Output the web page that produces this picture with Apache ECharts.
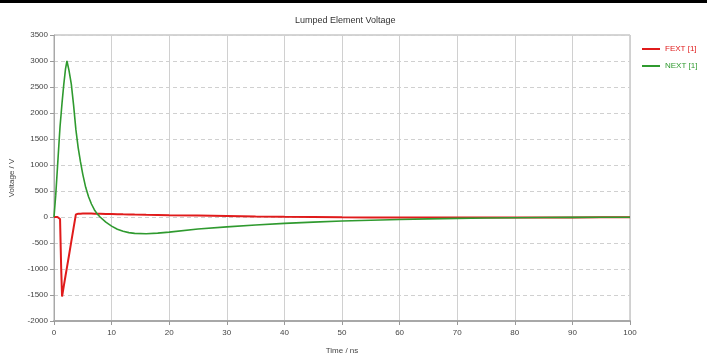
<!DOCTYPE html>
<html>
<head>
<meta charset="utf-8">
<script src="https://cdn.jsdelivr.net/npm/echarts@6/dist/echarts.min.js"></script>
<style>
  html, body { margin: 0; padding: 0; background: #fff; }
  #chart { width: 707px; height: 362px; }
</style>
</head>
<body>
<div id="chart"></div>
<script>
// Sample times (ns) shared by both traces
const timeNs = [0, 0.3, 0.6, 0.9, 1.05, 1.25, 1.4, 1.7, 2.0, 2.25, 2.6, 3.0, 3.4, 3.8, 4.2, 4.6, 5.0, 5.5, 6, 6.5, 7, 7.5, 8, 9, 10, 11, 12, 13, 14, 16, 18, 20, 25, 30, 35, 40, 45, 50, 55, 60, 65, 70, 75, 80, 85, 90, 95, 100];

// Far-end crosstalk voltage (V)
const fextValues = [0, 0, 0, -5, -40, -1000, -1530, -1330, -1130, -970, -740, -475, -210, 50, 62, 64, 65, 65, 65, 65, 64, 63, 62, 60, 58, 55, 52, 50, 47, 43, 40, 36, 28, 20, 12, 5, 0, -5, -8, -10, -12, -12, -12, -11, -10, -8, -6, -5];

// Near-end crosstalk voltage (V)
const nextValues = [0, 420, 950, 1480, 1740, 2000, 2200, 2550, 2850, 3000, 2820, 2560, 2150, 1680, 1330, 1060, 820, 570, 390, 250, 140, 60, 0, -100, -175, -235, -275, -300, -315, -322, -310, -290, -232, -190, -155, -122, -98, -78, -62, -48, -36, -27, -20, -15, -11, -8, -6, -5];

const xTicks = { min: 0, max: 100, step: 10 };
const yTicks = { min: -2000, max: 3500, step: 500 };

const seriesNames = ['FEXT [1]', 'NEXT [1]'];
const seriesColors = ['#e01b1b', '#2f9a2f'];

const pair = vals => timeNs.map((t, i) => [t, vals[i]]);
const font = 'Liberation Sans, Arial, sans-serif';

const chart = echarts.init(document.getElementById('chart'));
chart.setOption({
  animation: false,
  backgroundColor: '#ffffff',
  graphic: [{
    type: 'rect', left: 0, top: 0,
    shape: { width: 707, height: 3 },
    style: { fill: '#000' }
  }],
  title: {
    text: 'Lumped Element Voltage',
    left: 290, top: 11,
    textStyle: { fontSize: 9, fontWeight: 'normal', color: '#333', fontFamily: font }
  },
  legend: {
    orient: 'vertical',
    left: 637, top: 40,
    itemWidth: 18, itemHeight: 2, itemGap: 9,
    icon: 'rect',
    data: seriesNames.map((n, i) => ({ name: n, textStyle: { color: seriesColors[i] } })),
    textStyle: { fontSize: 8, fontFamily: font }
  },
  grid: {
    left: 53, right: 77, top: 35, bottom: 41,
    show: true, borderColor: '#aaa', borderWidth: 1
  },
  xAxis: {
    type: 'value',
    min: xTicks.min, max: xTicks.max, interval: xTicks.step,
    name: 'Time / ns', nameLocation: 'middle', nameGap: 26,
    nameTextStyle: { fontSize: 8, color: '#444', fontFamily: font },
    axisLine: { onZero: false, lineStyle: { color: '#a8a8a8', width: 2 } },
    axisTick: { show: true, length: 4, lineStyle: { color: '#999' } },
    axisLabel: { fontSize: 8, color: '#444', margin: 8, fontFamily: font },
    splitLine: { show: true, lineStyle: { color: '#d0d0d0', width: 1 } }
  },
  yAxis: {
    type: 'value',
    min: yTicks.min, max: yTicks.max, interval: yTicks.step,
    name: 'Voltage / V', nameLocation: 'middle', nameGap: 38, nameRotate: 90,
    nameTextStyle: { fontSize: 8, color: '#444', fontFamily: font },
    axisLine: { show: true, lineStyle: { color: '#a8a8a8', width: 1 } },
    axisTick: { show: true, length: 4, lineStyle: { color: '#999' } },
    axisLabel: { fontSize: 8, color: '#444', margin: 6, fontFamily: font, formatter: v => String(v) },
    splitLine: { show: true, lineStyle: { color: '#d0d0d0', width: 1, type: [4, 3] } }
  },
  series: [
    {
      name: seriesNames[0], type: 'line', data: pair(fextValues),
      showSymbol: false, color: seriesColors[0],
      lineStyle: { width: 2, color: seriesColors[0] }
    },
    {
      name: seriesNames[1], type: 'line', data: pair(nextValues),
      showSymbol: false, color: seriesColors[1],
      lineStyle: { width: 1.6, color: seriesColors[1] }
    }
  ]
});
</script>
</body>
</html>
